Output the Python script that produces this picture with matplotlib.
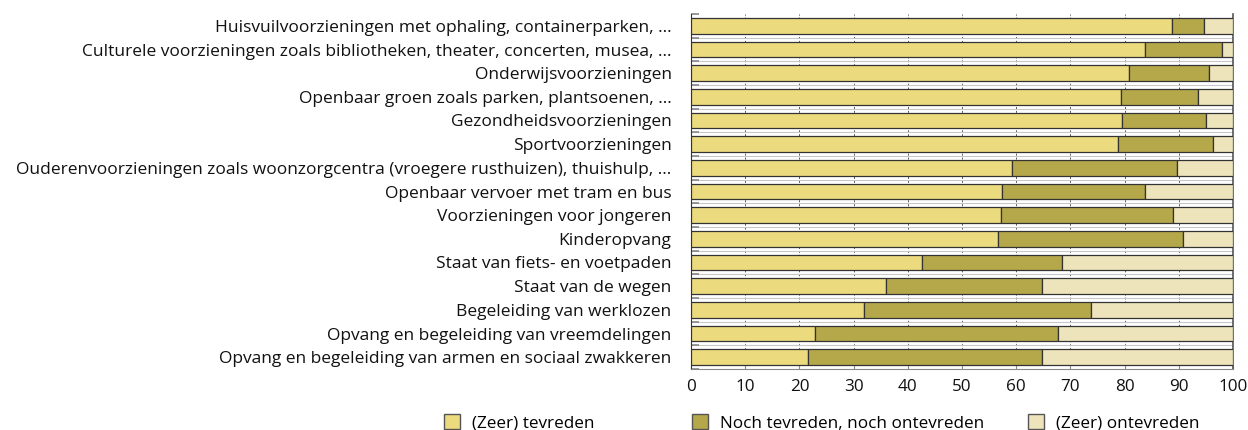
import matplotlib
matplotlib.use("Agg")
import matplotlib.pyplot as plt
import numpy as np
from matplotlib.ticker import FixedLocator

categories = [
    "Huisvuilvoorzieningen met ophaling, containerparken, …",
    "Culturele voorzieningen zoals bibliotheken, theater, concerten, musea, …",
    "Onderwijsvoorzieningen",
    "Openbaar groen zoals parken, plantsoenen, …",
    "Gezondheidsvoorzieningen",
    "Sportvoorzieningen",
    "Ouderenvoorzieningen zoals woonzorgcentra (vroegere rusthuizen), thuishulp, …",
    "Openbaar vervoer met tram en bus",
    "Voorzieningen voor jongeren",
    "Kinderopvang",
    "Staat van fiets- en voetpaden",
    "Staat van de wegen",
    "Begeleiding van werklozen",
    "Opvang en begeleiding van vreemdelingen",
    "Opvang en begeleiding van armen en sociaal zwakkeren",
]
tevreden = [88.7, 83.8, 80.8, 79.4, 79.6, 78.8, 59.2, 57.4, 57.2, 56.6, 42.6, 35.9, 32.0, 22.8, 21.5]
neutraal = [5.9, 14.1, 14.8, 14.1, 15.4, 17.6, 30.4, 26.3, 31.7, 34.1, 25.9, 28.8, 41.8, 44.9, 43.2]
ontevreden = [round(100 - a - b, 1) for a, b in zip(tevreden, neutraal)]
series_labels = ["(Zeer) tevreden", "Noch tevreden, noch ontevreden", "(Zeer) ontevreden"]
xticks = [0, 10, 20, 30, 40, 50, 60, 70, 80, 90, 100]

colors = ["#ECDA7E", "#B5A84A", "#EDE4BC"]
plt.rcParams['font.family'] = ['Open Sans', 'DejaVu Sans']

fig = plt.figure(figsize=(12.48, 4.30), dpi=100)
ax = fig.add_axes([691/1248, 1-369/430, (1233-691)/1248, (369-14)/430])

y = np.arange(len(categories))
left = np.zeros(len(categories))
conts = []
for vals, col, lab in zip([tevreden, neutraal, ontevreden], colors, series_labels):
    c = ax.barh(y, vals, left=left, height=0.65, color=col, edgecolor="#333333",
                linewidth=0.9, label=lab, zorder=3)
    conts.append(c)
    left = left + np.array(vals)

ax.set_xlim(0, 100)
ax.set_ylim(len(categories) - 0.5, -0.5)
ax.set_xticks(xticks)
ax.set_yticks(y)
ax.set_yticklabels(categories, fontsize=12.5, color="#111111")
ax.yaxis.set_minor_locator(FixedLocator(np.arange(-0.5, len(categories), 1.0)))
ax.tick_params(axis='y', which='major', length=0, pad=14)
ax.tick_params(axis='y', which='minor', direction='in', length=6, color="#888888", width=1.2)
ax.tick_params(axis='x', which='major', direction='in', length=3, color="#888888",
               labelsize=12.3, labelcolor="#111111", pad=7)

for x in xticks[1:-1]:
    ax.axvline(x, color="#555555", lw=0.7, ls=(0, (2, 2)), zorder=1)
for b in np.arange(0.5, len(categories) - 1, 1.0):
    ax.axhline(b, color="#c8c8c8", lw=0.8, zorder=1)

ax.spines['top'].set_visible(False)
ax.spines['left'].set_color("#333333")
ax.spines['right'].set_color("#555555")
ax.spines['right'].set_linewidth(1.2)
ax.spines['bottom'].set_color("#888888")

# legends placed separately
positions = [451, 699, 1035]
for cont, lab, px in zip(conts, series_labels, positions):
    leg = fig.legend([cont], [lab], loc='center left',
                     bbox_to_anchor=((px - 7) / 1248, 1 - 423/430),
                     frameon=False, fontsize=12.3, handlelength=0.95, handleheight=0.95,
                     handletextpad=0.7, borderaxespad=0, borderpad=0)
    for h in leg.legend_handles:
        h.set_edgecolor("#555555")
        h.set_linewidth(1.0)

fig.savefig("out.png", dpi=100)
